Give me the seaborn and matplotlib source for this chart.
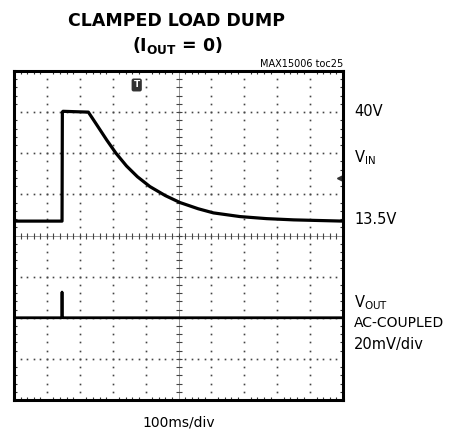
import numpy as np
import pandas as pd
import matplotlib
matplotlib.use('Agg')
import matplotlib.pyplot as plt
import seaborn as sns
from matplotlib import font_manager

# Scope traces (time in ms, 100 ms/div, 10 div wide)
vin_time = [0, 146, 147, 149, 226, 250, 282, 310, 342, 375, 413, 460, 505, 560, 606, 687, 768, 850, 1000]
vin_volts = [13.5, 13.5, 40, 40.2, 40, 37.1, 33.2, 30.0, 26.9, 24.3, 21.9, 19.7, 18.0, 16.5, 15.5, 14.6, 14.1, 13.8, 13.5]

vout_time = [0, 145, 146, 147, 148, 1000]
vout_mv = [0, 0, 12.5, 0.5, 0, 0]

right_labels = ['40V', 'V$_{\\mathrm{IN}}$', '13.5V']

# screen scaling: volts/div and where zero sits (in divisions from centre)
VIN_PER_DIV, VIN_ZERO = 10.0, -1.0
VOUT_PER_DIV, VOUT_ZERO = 20.0, -2.0

# look for a narrow face, the original uses a condensed grotesque
narrow = None
for f in font_manager.fontManager.ttflist:
    if f.stretch in ('condensed', 'semi-condensed', 'extra-condensed') or \
            'Condensed' in f.name or 'Narrow' in f.name:
        narrow = f.name
        break
if narrow is None:
    narrow = 'Roboto'

sns.set_style('white')
plt.rcParams['font.family'] = [narrow, 'DejaVu Sans']
plt.rcParams['text.color'] = 'black'
plt.rcParams['mathtext.fontset'] = 'custom'
plt.rcParams['mathtext.rm'] = narrow
plt.rcParams['mathtext.bf'] = narrow + ':bold'

fig = plt.figure(figsize=(4.53, 4.34), dpi=100)
ax = fig.add_axes([14 / 453, 1 - 400 / 434, 329 / 453, 329 / 434])

vin = pd.DataFrame({'t': vin_time, 'div': np.array(vin_volts) / VIN_PER_DIV + VIN_ZERO})
vout = pd.DataFrame({'t': vout_time, 'div': np.array(vout_mv) / VOUT_PER_DIV + VOUT_ZERO})

ax.set_xlim(0, 1000)
ax.set_ylim(-4, 4)

# dotted graticule
dot_kw = dict(ls='none', marker='s', ms=1.2, color='#444444', mew=0)
for gx in range(100, 1000, 100):
    if gx == 500:
        continue
    ys = np.arange(-4, 4.01, 0.2)
    ax.plot(np.full_like(ys, gx), ys, **dot_kw)
for gy in [-3, -2, -1, 1, 2, 3]:
    xs = np.arange(0, 1000.1, 20)
    ax.plot(xs, np.full_like(xs, gy), **dot_kw)

# centre crosshair with small ticks
ax.axhline(0, color='#888888', lw=0.6)
ax.axvline(500, color='#888888', lw=0.6)
xs = np.arange(0, 1000.1, 20)
ax.plot(xs, np.zeros_like(xs), ls='none', marker='|', ms=4, mew=0.8, color='#444444')
ys = np.arange(-4, 4.01, 0.2)
ax.plot(np.full_like(ys, 500), ys, ls='none', marker='_', ms=5, mew=0.8, color='#444444')

sns.lineplot(data=vin, x='t', y='div', ax=ax, color='black', lw=2.3, sort=False)
sns.lineplot(data=vout, x='t', y='div', ax=ax, color='black', lw=2.0, sort=False)

# trigger position / level markers
ax.text(373, 3.66, 'T', color='white', fontsize=6.5, fontweight='bold', ha='center', va='center',
        family='DejaVu Sans', bbox=dict(boxstyle='round,pad=0.22', fc='#333333', ec='none'))
ax.plot([990], [1.4], marker='<', ms=5, color='#333333', clip_on=False)

ax.set_xticks(np.arange(0, 1001, 100))
ax.set_yticks(np.arange(-4, 5, 1))
ax.set_xticks(np.arange(0, 1001, 20), minor=True)
ax.set_yticks(np.arange(-4, 4.01, 0.2), minor=True)
ax.tick_params(which='both', direction='in', top=True, right=True, bottom=True, left=True,
               labelbottom=False, labelleft=False, color='#333333')
ax.tick_params(which='major', length=0)
ax.tick_params(which='minor', length=2.5, width=0.8)
ax.set_xlabel('')
ax.set_ylabel('')
for s in ax.spines.values():
    s.set_linewidth(2.2)
    s.set_color('black')

fig.text(177 / 453, 1 - 21 / 434, 'CLAMPED LOAD DUMP', ha='center', va='center',
         fontsize=12.5, fontweight='bold')
fig.text(177 / 453, 1 - 46 / 434, '(I$_{\\mathbf{OUT}}$ = 0)', ha='center', va='center',
         fontsize=12.5, fontweight='bold')
fig.text(343 / 453, 1 - 64 / 434, 'MAX15006 toc25', ha='right', va='center', fontsize=7)

label_y = [112, 158, 220]
for txt, y in zip(right_labels, label_y):
    fig.text(354 / 453, 1 - y / 434, txt, ha='left', va='center', fontsize=10.5)
fig.text(354 / 453, 1 - 303 / 434, 'V$_{\\mathrm{OUT}}$', ha='left', va='center', fontsize=10.5)
fig.text(354 / 453, 1 - 323 / 434, 'AC-COUPLED', ha='left', va='center', fontsize=10)
fig.text(354 / 453, 1 - 344 / 434, '20mV/div', ha='left', va='center', fontsize=10.5)
fig.text(178.5 / 453, 1 - 422 / 434, '100ms/div', ha='center', va='center', fontsize=10)

fig.savefig('out.png', dpi=100)
